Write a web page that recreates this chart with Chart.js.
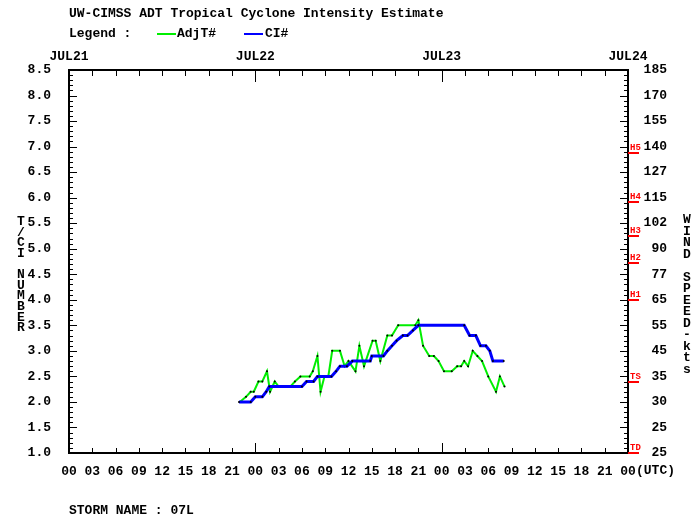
<!DOCTYPE html>
<html>
<head>
<meta charset="utf-8">
<script src="https://cdn.jsdelivr.net/npm/chart.js@4.4.0/dist/chart.umd.min.js"></script>
<style>
  body { margin: 0; background: #fff; }
  #c { display: block; }
</style>
</head>
<body>
<canvas id="c" width="700" height="525"></canvas>
<script>
// hours since JUL21 00 UTC
var adjtHours = [22.0, 22.8, 23.4, 23.8, 24.4, 24.9, 25.5, 25.9, 26.5, 27.0,
                 28.5, 29.1, 29.8, 31.0, 31.4, 32.0, 32.4, 32.9, 33.4, 33.9,
                 34.9, 35.5, 36.0, 36.9, 37.4, 38.0, 39.1, 39.5, 40.1, 41.0,
                 41.6, 42.4, 44.6, 45.0, 45.6, 46.4, 47.0, 47.6, 48.3, 49.3,
                 50.0, 50.5, 50.9, 51.4, 52.0, 52.6, 53.2, 54.0, 55.0, 55.5, 56.1];
var adjtValues = [2.0, 2.1, 2.2, 2.2, 2.4, 2.4, 2.6, 2.2, 2.4, 2.3,
                  2.3, 2.4, 2.5, 2.5, 2.6, 2.9, 2.2, 2.5, 2.5, 3.0,
                  3.0, 2.7, 2.8, 2.6, 3.1, 2.7, 3.2, 3.2, 2.8, 3.3,
                  3.3, 3.5, 3.5, 3.6, 3.1, 2.9, 2.9, 2.8, 2.6, 2.6,
                  2.7, 2.7, 2.8, 2.7, 3.0, 2.9, 2.8, 2.5, 2.2, 2.5, 2.3];

var ciHours = [21.9, 23.4, 24.0, 24.9, 25.4, 25.8, 30.0, 30.6, 31.5, 32.0,
               33.8, 34.4, 34.9, 35.8, 36.5, 38.8, 39.0, 40.5, 41.0, 41.6,
               42.2, 43.0, 43.6, 44.3, 45.0, 50.9, 51.6, 52.4, 53.0, 53.7,
               54.2, 54.6, 56.0];
var ciValues = [2.0, 2.0, 2.1, 2.1, 2.2, 2.3, 2.3, 2.4, 2.4, 2.5,
                2.5, 2.6, 2.7, 2.7, 2.8, 2.8, 2.9, 2.9, 3.0, 3.1,
                3.2, 3.3, 3.3, 3.4, 3.5, 3.5, 3.3, 3.3, 3.1, 3.1,
                3.0, 2.8, 2.8];

var dayLabels = ["JUL21", "JUL22", "JUL23", "JUL24"];
var windLabels = ["25", "25", "30", "35", "45", "55", "65", "77",
                  "90", "102", "115", "127", "140", "155", "170", "185"];
var catNames = ["H5", "H4", "H3", "H2", "H1", "TS", "TD"];
var catT = [6.88, 5.92, 5.25, 4.73, 4.0, 2.4, 1.0];

var FONT = '"Liberation Mono", "DejaVu Sans Mono", monospace';

function pts(xs, ys) {
  return xs.map(function (x, i) { return { x: x, y: ys[i] }; });
}
function pad2(n) { return (n < 10 ? "0" : "") + n; }

var tickFont = { family: FONT, size: 13, weight: "bold" };

// frame, inward ticks, texts
var decor = {
  id: "decor",
  beforeDatasetsDraw: function (chart) {
    var ctx = chart.ctx, a = chart.chartArea;
    var sx = chart.scales.x, sy = chart.scales.y;
    ctx.save();
    ctx.strokeStyle = "#000";
    ctx.lineWidth = 1;
    ctx.beginPath();
    for (var i = 10; i <= 85; i++) {
      var v = i / 10, y = Math.round(sy.getPixelForValue(v)) + 0.5;
      var len = (i % 5 === 0) ? 8 : 4;
      ctx.moveTo(a.left, y); ctx.lineTo(a.left + len, y);
      ctx.moveTo(a.right, y); ctx.lineTo(a.right - len, y);
    }
    for (var h = 3; h < 72; h += 3) {
      var x = Math.round(sx.getPixelForValue(h)) + 0.5;
      var lb = (h % 24 === 0) ? 10 : 5;
      var lt = (h % 24 === 0) ? 12 : 6;
      ctx.moveTo(x, a.bottom); ctx.lineTo(x, a.bottom - lb);
      ctx.moveTo(x, a.top); ctx.lineTo(x, a.top + lt);
    }
    ctx.stroke();
    ctx.lineWidth = 2;
    ctx.strokeRect(a.left, a.top, a.right - a.left, a.bottom - a.top);
    ctx.restore();
  },
  afterDraw: function (chart) {
    var ctx = chart.ctx, a = chart.chartArea, sy = chart.scales.y;
    ctx.save();
    ctx.fillStyle = "#000";
    ctx.font = "bold 13px " + FONT;
    ctx.textBaseline = "middle";
    ctx.textAlign = "left";
    ctx.fillText("UW-CIMSS ADT Tropical Cyclone Intensity Estimate", 69, 14);
    ctx.fillText("Legend :", 69, 34);
    ctx.fillText("AdjT#", 177, 34);
    ctx.fillText("CI#", 265, 34);
    ctx.fillText("STORM NAME : 07L", 69, 511);
    ctx.fillText("(UTC)", a.right + 8, 471);

    ctx.lineWidth = 2;
    ctx.strokeStyle = "#00ee00";
    ctx.beginPath(); ctx.moveTo(157, 34); ctx.lineTo(176, 34); ctx.stroke();
    ctx.strokeStyle = "#0000ff";
    ctx.beginPath(); ctx.moveTo(244, 34); ctx.lineTo(263, 34); ctx.stroke();

    ctx.textAlign = "center";
    var left = "T/CI NUMBER";
    for (var i = 0; i < left.length; i++) ctx.fillText(left[i], 21, 222 + i * 10.6);
    var right = "WIND SPEED-kts";
    for (var j = 0; j < right.length; j++) ctx.fillText(right[j], 687, 220 + j * 11.5);

    // intensity category marks
    ctx.fillStyle = "#ff0000";
    ctx.strokeStyle = "#ff0000";
    ctx.font = "bold 9px " + FONT;
    ctx.textAlign = "left";
    catNames.forEach(function (n, k) {
      var y = Math.round(sy.getPixelForValue(catT[k]));
      ctx.beginPath(); ctx.moveTo(a.right, y); ctx.lineTo(a.right + 11, y); ctx.stroke();
      ctx.fillText(n, a.right + 2, y - 5);
    });
    ctx.restore();
  }
};

new Chart(document.getElementById("c"), {
  type: "line",
  data: {
    datasets: [
      {
        label: "AdjT#",
        data: pts(adjtHours, adjtValues),
        borderColor: "#00ee00",
        borderWidth: 2,
        pointRadius: 1,
        pointBackgroundColor: "#000",
        pointBorderWidth: 0,
        tension: 0,
        order: 2
      },
      {
        label: "CI#",
        data: pts(ciHours, ciValues),
        borderColor: "#0000ff",
        borderWidth: 3,
        pointRadius: 1,
        pointBackgroundColor: "#000",
        pointBorderWidth: 0,
        tension: 0,
        order: 1
      }
    ]
  },
  options: {
    responsive: false,
    animation: false,
    devicePixelRatio: 1,
    layout: { padding: { left: 0, right: 33, top: 0, bottom: 0 } },
    plugins: { legend: { display: false }, tooltip: { enabled: false }, title: { display: false } },
    scales: {
      x: {
        type: "linear", position: "bottom", min: 0, max: 72,
        grid: { display: false }, border: { display: false },
        afterBuildTicks: function (s) {
          s.ticks = [];
          for (var h = 0; h <= 72; h += 3) s.ticks.push({ value: h });
        },
        ticks: {
          autoSkip: false, maxRotation: 0, padding: 3, color: "#000", font: tickFont,
          callback: function (v) { return pad2(v % 24); }
        },
        afterFit: function (s) { s.height = 72; }
      },
      x2: {
        type: "linear", position: "top", min: 0, max: 72,
        grid: { display: false }, border: { display: false },
        afterBuildTicks: function (s) {
          s.ticks = dayLabels.map(function (d, i) { return { value: i * 24 }; });
        },
        ticks: {
          autoSkip: false, maxRotation: 0, padding: -3, color: "#000", font: tickFont,
          callback: function (v) { return dayLabels[Math.round(v / 24)]; }
        },
        afterFit: function (s) { s.height = 70; }
      },
      y: {
        type: "linear", position: "left", min: 1, max: 8.5,
        grid: { display: false }, border: { display: false },
        ticks: {
          stepSize: 0.5, padding: 10, color: "#000", font: tickFont,
          callback: function (v) { return v.toFixed(1); }
        },
        afterFit: function (s) { s.width = 69; }
      },
      y2: {
        type: "linear", position: "right", min: 1, max: 8.5,
        grid: { display: false }, border: { display: false },
        ticks: {
          stepSize: 0.5, padding: 8, crossAlign: "far", color: "#000", font: tickFont,
          callback: function (v) { return windLabels[Math.round((v - 1) * 2)]; }
        },
        afterFit: function (s) { s.width = 39; }
      }
    }
  },
  plugins: [decor]
});
</script>
</body>
</html>
